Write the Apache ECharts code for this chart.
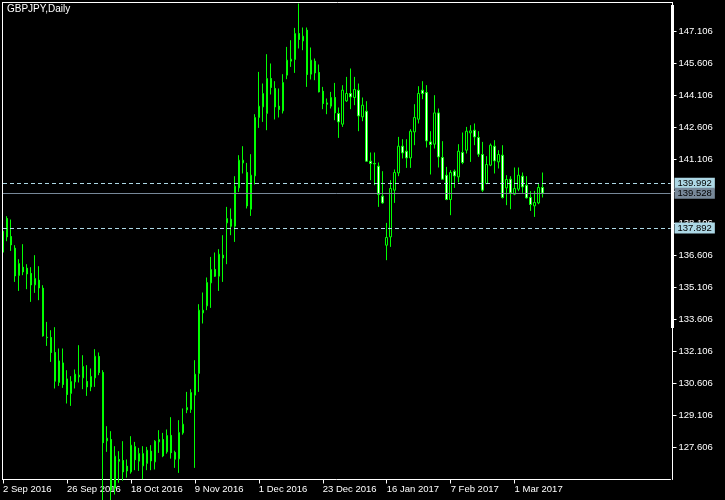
<!DOCTYPE html>
<html><head><meta charset="utf-8">
<script src="https://cdn.jsdelivr.net/npm/echarts@6/dist/echarts.min.js"></script>
<style>html,body{margin:0;padding:0;background:#000}#c{width:725px;height:500px}</style>
</head><body><div id="c"></div>
<script>
const chartTitle = 'GBPJPY,Daily';
const open = [136.760,138.340,137.496,136.948,135.668,136.057,136.010,135.762,135.228,135.448,
135.073,132.776,132.762,132.059,130.653,131.571,130.821,130.137,130.681,130.915,
130.868,130.700,130.446,130.868,131.871,131.121,127.915,127.981,125.700,127.043,
126.996,126.729,126.462,127.643,126.964,126.743,126.856,127.432,126.931,127.868,
127.981,127.400,128.173,127.371,127.071,128.290,129.368,129.387,130.057,131.075,
133.915,134.243,135.321,135.950,135.636,136.620,138.134,138.307,137.979,139.775,
140.946,140.496,138.776,140.337,143.075,143.571,143.262,144.903,144.434,143.604,
143.384,145.057,145.714,145.793,147.012,146.665,147.167,145.104,145.714,145.184,
144.307,143.759,143.604,144.012,143.262,142.761,143.853,144.200,144.012,144.354,
143.103,143.370,141.026,140.918,140.792,139.386,137.089,137.478,139.667,140.478,
141.729,141.495,141.181,142.400,142.995,144.354,144.246,141.931,141.823,143.290,
141.200,140.370,139.231,140.557,140.290,141.434,141.542,142.353,142.479,142.137,
141.340,139.981,140.839,141.729,140.993,141.307,139.775,140.182,139.479,139.714,
140.323,139.901,139.325,138.931,139.071,139.793];
const close = [137.745,137.478,137.103,135.650,136.231,135.837,135.743,135.228,135.528,135.087,
132.837,132.753,132.059,130.714,131.665,130.559,130.090,130.700,131.042,130.995,
131.403,130.446,130.934,131.886,131.121,127.831,128.042,125.600,127.198,126.964,
126.462,126.509,127.714,127.034,127.325,127.325,127.479,126.978,127.901,127.981,
127.212,128.168,127.362,127.057,128.309,128.698,129.481,130.184,131.042,134.042,
134.042,135.340,135.950,135.636,136.667,136.493,138.340,137.979,139.854,141.073,
141.073,138.931,140.370,143.075,143.604,144.200,144.903,144.481,143.571,143.450,
144.715,145.761,145.807,147.012,146.731,146.886,145.090,145.761,145.165,144.275,
143.731,143.698,144.012,143.290,142.868,144.354,144.200,144.040,144.387,143.150,
143.651,141.026,140.918,140.900,139.465,139.071,137.450,139.746,140.496,141.729,
141.415,141.181,142.432,143.075,144.200,144.200,141.978,141.809,143.290,141.228,
140.182,139.231,140.496,140.337,141.495,140.965,142.432,142.446,142.165,141.354,
139.667,140.871,141.776,141.040,141.340,139.325,140.168,139.540,139.746,140.370,
139.821,139.306,138.996,139.090,139.793,139.528];
const low = [136.620,137.276,136.821,135.368,134.946,135.682,135.026,134.431,134.853,134.511,
132.800,132.368,131.618,130.371,130.493,130.400,129.668,129.556,130.371,130.653,
130.339,130.025,130.245,130.446,130.995,124.500,127.400,125.100,125.400,125.950,
126.050,126.190,126.378,126.542,126.509,126.120,126.542,126.542,126.575,127.353,
127.151,127.315,127.081,126.650,126.415,128.206,129.214,129.228,126.650,130.212,
133.418,134.042,134.150,135.603,134.946,135.368,136.198,137.557,137.243,139.587,
140.450,138.809,138.462,139.934,142.587,142.868,142.479,144.153,142.981,143.075,
143.262,144.870,145.446,145.165,146.309,146.229,144.509,144.856,144.823,144.250,
143.464,143.229,143.496,142.948,142.118,142.634,143.806,143.464,143.651,142.432,
142.901,140.993,140.136,139.901,138.884,139.030,136.386,137.009,139.071,140.323,
141.153,140.712,140.712,141.776,142.793,143.932,141.668,140.403,141.621,140.731,
140.168,139.198,138.495,139.775,140.028,140.886,141.387,140.993,141.776,141.228,
139.587,139.948,140.792,140.450,140.684,139.278,138.964,138.776,139.432,139.620,
139.540,139.278,138.696,138.415,139.010,139.325];
const high = [137.979,138.448,138.293,137.089,136.432,137.136,136.198,136.057,136.620,136.104,
135.214,133.493,133.104,133.245,132.246,132.246,131.229,130.948,131.262,132.401,
131.932,131.464,131.309,132.214,132.059,131.229,128.604,128.370,127.667,127.432,
127.901,127.043,128.136,127.868,127.587,127.667,127.634,127.714,127.948,128.417,
128.290,128.450,129.026,127.455,128.886,129.434,130.212,130.339,131.698,134.323,
134.871,135.575,136.540,136.746,136.901,137.557,138.884,138.809,140.323,141.307,
141.729,140.946,141.354,143.229,145.212,144.668,146.042,145.606,144.776,144.434,
145.104,146.384,146.698,147.275,148.418,147.293,147.293,146.356,145.840,145.559,
144.509,143.965,144.275,144.696,143.543,144.589,144.978,145.371,144.978,144.668,
144.012,143.839,141.434,141.434,140.965,140.557,138.134,140.136,140.637,142.165,
142.057,142.057,142.526,143.698,144.542,144.776,144.589,142.432,144.120,143.496,
141.964,140.759,140.604,140.637,141.823,142.371,142.634,142.714,142.793,142.432,
141.931,141.260,141.856,142.010,141.542,141.776,140.370,140.323,140.731,140.731,
140.496,140.323,139.620,139.634,140.009,140.496];
const yTicks = [127.606,129.106,130.606,132.106,133.606,135.106,136.606,138.106,139.606,141.106,142.606,144.106,145.606,147.106];
const levelUpper = 139.992;
const levelLower = 137.892;
const bidPrice = 139.528;
const firstDay = [2016, 8, 2];
const slots = 168;
const tickEvery = 16;
const monthNames = ['Jan','Feb','Mar','Apr','May','Jun','Jul','Aug','Sep','Oct','Nov','Dec'];

const dates = [];
const d = new Date(Date.UTC(firstDay[0], firstDay[1], firstDay[2]));
while (dates.length < slots) {
  const wd = d.getUTCDay();
  if (wd !== 0 && wd !== 6) dates.push(d.getUTCDate() + ' ' + monthNames[d.getUTCMonth()] + ' ' + d.getUTCFullYear());
  d.setUTCDate(d.getUTCDate() + 1);
}
const ohlc = open.map((o, i) => [o, close[i], low[i], high[i]]);
const F = 'Liberation Sans';
const FS = 9.5;
const showTick = (i) => i % tickEvery === 0 && i < open.length;

const chart = echarts.init(document.getElementById('c'), null, {renderer: 'canvas'});
chart.setOption({
  backgroundColor: '#000',
  animation: false,
  title: {text: chartTitle, left: 7, top: 4, padding: 0, textStyle: {color: '#fff', fontSize: 10, fontWeight: 'normal', fontFamily: F}},
  grid: {left: 2.5, top: 2.5, right: 54.5, bottom: 20.5, containLabel: false},
  xAxis: {
    type: 'category', data: dates, boundaryGap: false,
    axisLine: {show: true, lineStyle: {color: '#fff', width: 1}},
    axisTick: {show: true, length: 4, inside: false, lineStyle: {color: '#fff'}, interval: showTick},
    axisLabel: {color: '#fff', fontSize: FS, fontFamily: F, align: 'left', margin: 5, interval: showTick},
    splitLine: {show: false}
  },
  yAxis: {
    type: 'value', position: 'right', offset: 2, min: 126.105, max: 148.465,
    axisLine: {show: true, lineStyle: {color: '#fff', width: 1}},
    axisTick: {show: true, length: 4, inside: false, lineStyle: {color: '#fff'}, customValues: yTicks},
    axisLabel: {color: '#fff', fontSize: FS, fontFamily: F, margin: 6, customValues: yTicks, formatter: v => v.toFixed(3)},
    splitLine: {show: false}
  },
  series: [
    {
      type: 'candlestick', data: ohlc, barWidth: 2, clip: true,
      itemStyle: {color: '#000000', color0: '#ffffff', borderColor: '#00ff00', borderColor0: '#00ff00', borderColorDoji: '#00ff00', borderWidth: 1}
    },
    {
      type: 'line', data: [], clip: false, silent: true,
      markLine: {
        silent: true, symbol: ['none', 'none'], animation: false, precision: 3,
        label: {show: true, position: 'end', distance: 4, color: '#000', fontSize: FS, fontFamily: F, padding: [1, 3, 1, 3], lineHeight: 9, formatter: p => Number(p.value).toFixed(3)},
        data: [
          {yAxis: levelUpper, lineStyle: {color: '#add8e6', type: [4, 3], width: 1}, label: {backgroundColor: '#add8e6'}},
          {yAxis: bidPrice, lineStyle: {color: '#778899', type: 'solid', width: 1}, label: {backgroundColor: '#778899'}},
          {yAxis: levelLower, lineStyle: {color: '#add8e6', type: [4, 3], width: 1}, label: {backgroundColor: '#add8e6'}}
        ]
      }
    }
  ],
  graphic: [
    {type: 'line', silent: true, z: 100, shape: {x1: 2, y1: 2.5, x2: 673, y2: 2.5}, style: {stroke: '#fff', lineWidth: 1}},
    {type: 'line', silent: true, z: 100, shape: {x1: 2.5, y1: 2, x2: 2.5, y2: 480}, style: {stroke: '#fff', lineWidth: 1}},
    {type: 'rect', silent: true, z: 100, shape: {x: 671, y: 5, width: 3, height: 323}, style: {fill: '#fff'}}
  ]
});
</script>
</body></html>
